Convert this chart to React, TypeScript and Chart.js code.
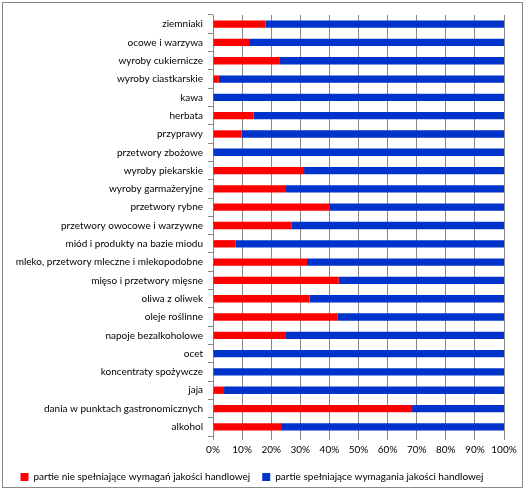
import { useEffect, useRef } from "react";
import { Chart, registerables } from "chart.js";

Chart.register(...registerables);

const categories = [
  "ziemniaki",
  "ocowe i warzywa",
  "wyroby cukiernicze",
  "wyroby ciastkarskie",
  "kawa",
  "herbata",
  "przyprawy",
  "przetwory zbożowe",
  "wyroby piekarskie",
  "wyroby garmażeryjne",
  "przetwory rybne",
  "przetwory owocowe i warzywne",
  "miód i produkty na bazie miodu",
  "mleko, przetwory mleczne i mlekopodobne",
  "mięso i przetwory mięsne",
  "oliwa z oliwek",
  "oleje roślinne",
  "napoje bezalkoholowe",
  "ocet",
  "koncentraty spożywcze",
  "jaja",
  "dania w punktach gastronomicznych",
  "alkohol",
];

// share of batches failing commercial quality requirements (%)
const failing = [18, 12.4, 23, 2, 0, 14, 9.8, 0, 31.3, 24.8, 40, 26.9, 7.8, 32.3, 43.2, 33.2, 42.7, 24.8, 0, 0, 3.8, 68.4, 23.4];
// share of batches meeting the requirements (%)
const passing = [82, 87.6, 77, 98, 100, 86, 90.2, 100, 68.7, 75.2, 60, 73.1, 92.2, 67.7, 56.8, 66.8, 57.3, 75.2, 100, 100, 96.2, 31.6, 76.6];

const xTickLabels = ["0%", "10%", "20%", "30%", "40%", "50%", "60%", "70%", "80%", "90%", "100%"];

const seriesNames = [
  "partie nie spełniające wymagań jakości handlowej",
  "partie spełniające wymagania jakości handlowej",
];

const FONT = "Lato";

export default function App() {
  const chartRef = useRef<HTMLCanvasElement>(null);
  const chartInstance = useRef<Chart | null>(null);

  useEffect(() => {
    document.body.style.margin = "0";
    if (!chartRef.current) return;
    if (chartInstance.current) chartInstance.current.destroy();
    const ctx = chartRef.current.getContext("2d");
    if (!ctx) return;

    chartInstance.current = new Chart(ctx, {
      type: "bar",
      data: {
        labels: categories,
        datasets: [
          {
            label: seriesNames[0],
            data: failing,
            backgroundColor: "#ff0000",
            barPercentage: 0.4,
            categoryPercentage: 1,
          },
          {
            label: seriesNames[1],
            data: passing,
            backgroundColor: "#0033cc",
            barPercentage: 0.4,
            categoryPercentage: 1,
          },
        ],
      },
      options: {
        indexAxis: "y",
        responsive: false,
        animation: false,
        layout: { padding: { top: 15, right: 23, left: 0, bottom: 0 } },
        plugins: {
          tooltip: { enabled: false },
          legend: {
            position: "bottom",
            labels: {
              boxWidth: 8,
              boxHeight: 8,
              color: "#000",
              padding: 12,
              font: { family: FONT, size: 10 },
            },
          },
        },
        scales: {
          x: {
            stacked: true,
            min: 0,
            max: 100,
            ticks: {
              stepSize: 10,
              color: "#000",
              padding: 4,
              maxRotation: 0,
              minRotation: 0,
              font: { family: FONT, size: 10 },
              callback: (_v, i) => xTickLabels[i],
            },
            grid: { color: "#888", tickLength: 4 },
            border: { display: false },
            afterFit: (s: any) => {
              s.height = 24;
            },
          },
          y: {
            stacked: true,
            ticks: {
              color: "#000",
              padding: 5,
              autoSkip: false,
              font: { family: FONT, size: 10 },
            },
            grid: { drawOnChartArea: false, color: "#888", tickLength: 5, offset: true },
            border: { color: "#888" },
            afterFit: (s: any) => {
              s.width = 213;
            },
          },
        },
      },
    });

    return () => {
      if (chartInstance.current) {
        chartInstance.current.destroy();
        chartInstance.current = null;
      }
    };
  }, []);

  return (
    <div style={{ position: "relative", width: 527, height: 492, background: "#fff" }}>
      <div
        style={{
          position: "absolute",
          left: 2,
          top: 2,
          width: 521,
          height: 486,
          boxSizing: "border-box",
          border: "1px solid #888",
        }}
      />
      <canvas ref={chartRef} width={527} height={492} style={{ position: "absolute", left: 0, top: 0 }} />
    </div>
  );
}
